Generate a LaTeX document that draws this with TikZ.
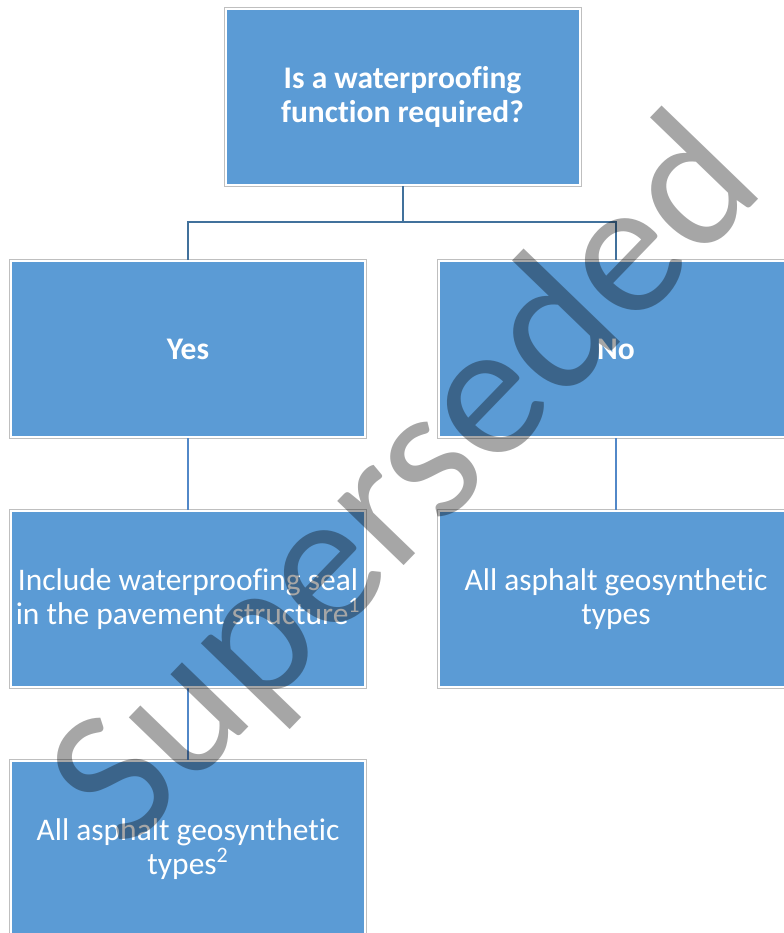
\documentclass[tikz,border=0pt]{standalone}
\usepackage{fontspec}
\setmainfont{Carlito}[Ligatures=NoCommon]
\usetikzlibrary{positioning}

\definecolor{boxblue}{HTML}{5B9BD5}
\definecolor{boxgray}{HTML}{BFBFBF}
\definecolor{linkdark}{HTML}{41719C}
\definecolor{linkblue}{HTML}{5288C8}

\begin{document}
\begin{tikzpicture}[
    x=0.75pt, y=-0.75pt,
    node distance=54pt,
    box/.style={rectangle, fill=boxblue, draw=white, line width=1.5pt,
        preaction={draw=boxgray, line width=3pt},
        minimum width=265.5pt, minimum height=132pt, inner xsep=0pt,
        align=center, text=white, font=\fontsize{23.6}{25}\selectfont},
    question/.style={box, font=\fontsize{23.6}{25}\selectfont\bfseries},
    link/.style={draw=linkblue, line width=1.5pt},
    trunk/.style={draw=linkdark, line width=1.5pt},
]
\useasboundingbox (0,0) rectangle (784,933);
\clip (0,0) rectangle (784,933);

\node[question] (top) at (402.5,97) {Is a waterproofing\\function required?};
\node[question] (yes) at (188,349) {Yes};
\node[question] (no) at (616,349) {No};

\node[box, below=of yes] (seal) {Include waterproofing seal\\in the pavement structure\textsuperscript{1}};
\node[box, below=of no] (alltypes) {All asphalt geosynthetic\\types};
\node[box, below=of seal] (sealtypes) {All asphalt geosynthetic\\types\textsuperscript{2}};

\draw[trunk] (top.south) -- ++(0,36) -| (yes.north);
\draw[trunk] (top.south) -- ++(0,36) -| (no.north);
\draw[link] (yes) -- (seal);
\draw[link] (no) -- (alltypes);
\draw[link] (seal) -- (sealtypes);

% watermark
\node[rotate=46, text=black, text opacity=0.35,
    font=\fontsize{145}{145}\selectfont] (stamp) at (410,486) {Superseded};
\end{tikzpicture}
\end{document}
